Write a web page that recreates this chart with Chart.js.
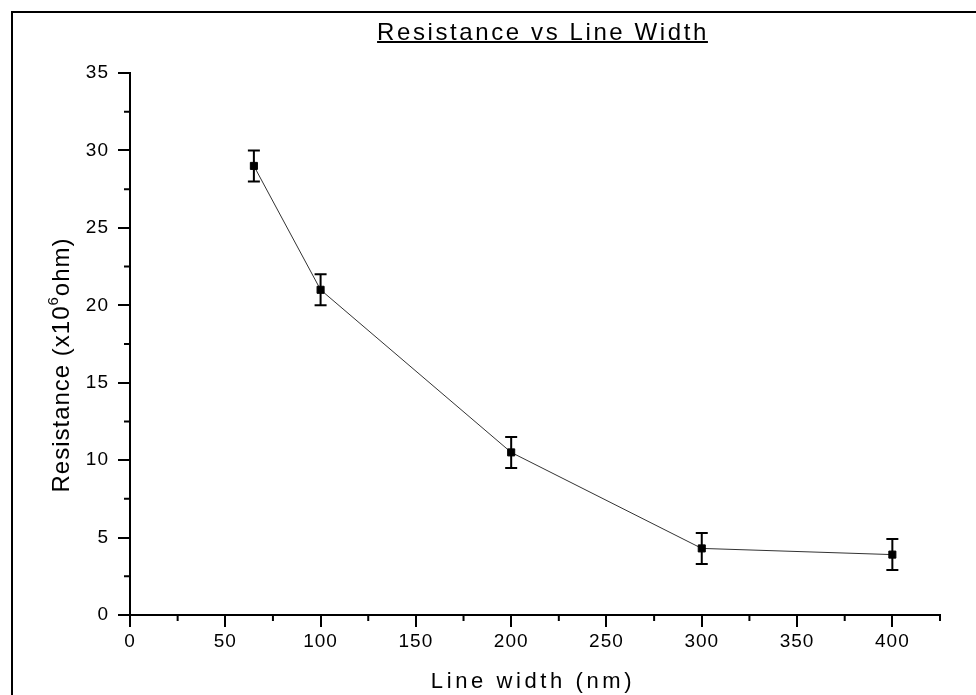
<!DOCTYPE html>
<html lang="en">
<head>
<meta charset="UTF-8">
<title>Resistance vs Line Width</title>
<script src="https://cdn.jsdelivr.net/npm/chart.js"></script>
<style>
  html, body { margin:0; padding:0; background:#fff; }
  #wrap { width:976px; height:695px; overflow:hidden; }
</style>
</head>
<body>
<div id="wrap"><canvas id="chart" width="976" height="695"></canvas></div>
<script>
// values
const lineWidths    = [65, 100, 200, 300, 400];
const resistance    = [29.0, 21.0, 10.5, 4.3, 3.9];
const resistanceErr = [1.0, 1.0, 1.0, 1.0, 1.0];

const xTickValues  = [0, 50, 100, 150, 200, 250, 300, 350, 400];
const xMinorValues = [25, 75, 125, 175, 225, 275, 325, 375, 425];
const yTickValues  = [0, 5, 10, 15, 20, 25, 30, 35];
const yMinorValues = [2.5, 7.5, 12.5, 17.5, 22.5, 27.5, 32.5];

const chartTitle  = 'Resistance vs Line Width';
const xTitle      = 'Line width (nm)';
const yTitleParts = ['Resistance (x10', '6', 'ohm)'];

const FONT = '"Liberation Sans", Arial, sans-serif';

const decor = {
  id: 'decor',
  beforeDraw(chart) {
    const ctx = chart.ctx;
    ctx.save();
    ctx.fillStyle = '#fff';
    ctx.fillRect(0, 0, chart.width, chart.height);
    // frame round the whole figure (runs off the right and bottom edges)
    ctx.strokeStyle = '#000';
    ctx.lineWidth = 2;
    ctx.strokeRect(12, 12, chart.width + 40, chart.height + 40);
    ctx.restore();
    ctx.letterSpacing = '1px';   // slightly spaced tick labels
  },
  beforeDatasetsDraw(chart) {
    const ctx = chart.ctx, xs = chart.scales.x, ys = chart.scales.y;
    ctx.save();
    ctx.strokeStyle = '#000';
    ctx.lineWidth = 2;
    lineWidths.forEach((v, i) => {
      const px = xs.getPixelForValue(v);
      const top = ys.getPixelForValue(resistance[i] + resistanceErr[i]);
      const bot = ys.getPixelForValue(resistance[i] - resistanceErr[i]);
      ctx.beginPath();
      ctx.moveTo(px, top); ctx.lineTo(px, bot);
      ctx.moveTo(px - 6, top); ctx.lineTo(px + 6, top);
      ctx.moveTo(px - 6, bot); ctx.lineTo(px + 6, bot);
      ctx.stroke();
    });
    ctx.restore();
  },
  afterDraw(chart) {
    const ctx = chart.ctx, xs = chart.scales.x, ys = chart.scales.y;
    const area = chart.chartArea;
    ctx.save();
    // minor ticks
    ctx.strokeStyle = '#000';
    ctx.lineWidth = 2;
    ctx.beginPath();
    xMinorValues.forEach(v => {
      const px = xs.getPixelForValue(v);
      ctx.moveTo(px, area.bottom); ctx.lineTo(px, area.bottom + 6);
    });
    yMinorValues.forEach(v => {
      const py = ys.getPixelForValue(v);
      ctx.moveTo(area.left - 6, py); ctx.lineTo(area.left, py);
    });
    ctx.stroke();

    ctx.fillStyle = '#000';
    ctx.textBaseline = 'alphabetic';
    ctx.textAlign = 'left';

    // chart title, underlined
    ctx.font = '24px ' + FONT;
    ctx.letterSpacing = '2.6px';
    const tw = ctx.measureText(chartTitle).width;
    const tx = (area.left + area.right) / 2 + 8 - tw / 2;
    ctx.fillText(chartTitle, tx, 40);
    ctx.fillRect(tx, 41, tw - 1, 2);

    // x axis title
    ctx.font = '22px ' + FONT;
    ctx.letterSpacing = '3.6px';
    const xw = ctx.measureText(xTitle).width;
    ctx.fillText(xTitle, (area.left + area.right) / 2 - 2 - xw / 2, 688);

    // y axis title with superscript
    ctx.letterSpacing = '1px';
    ctx.translate(69, (area.top + area.bottom) / 2 + 21);
    ctx.rotate(-Math.PI / 2);
    ctx.font = '24px ' + FONT;
    const w0 = ctx.measureText(yTitleParts[0]).width;
    const w2 = ctx.measureText(yTitleParts[2]).width;
    ctx.font = '15px ' + FONT;
    const w1 = ctx.measureText(yTitleParts[1]).width;
    let cx = -(w0 + w1 + w2) / 2;
    ctx.font = '24px ' + FONT;
    ctx.fillText(yTitleParts[0], cx, 0);
    cx += w0;
    ctx.font = '15px ' + FONT;
    ctx.fillText(yTitleParts[1], cx, -11);
    cx += w1;
    ctx.font = '24px ' + FONT;
    ctx.fillText(yTitleParts[2], cx, 0);
    ctx.restore();
  }
};

new Chart(document.getElementById('chart'), {
  type: 'scatter',
  data: {
    datasets: [{
      data: lineWidths.map((x, i) => ({ x: x, y: resistance[i] })),
      showLine: true,
      borderColor: '#333',
      borderWidth: 1,
      pointStyle: 'rect',
      pointRadius: 5,
      pointBackgroundColor: '#000',
      pointBorderColor: '#000',
      pointBorderWidth: 1
    }]
  },
  options: {
    responsive: false,
    animation: false,
    layout: { padding: { top: 73, right: 36, bottom: 0, left: 0 } },
    plugins: { legend: { display: false }, tooltip: { enabled: false } },
    scales: {
      x: {
        type: 'linear',
        min: 0, max: 425,
        afterBuildTicks: s => { s.ticks = xTickValues.map(v => ({ value: v })); },
        afterFit: s => { s.height = 80; },
        grid: { drawOnChartArea: false, drawTicks: true, tickLength: 12, color: '#000', lineWidth: 2 },
        border: { color: '#000', width: 2 },
        ticks: { color: '#000', font: { family: FONT, size: 19 }, padding: 3, maxRotation: 0, autoSkip: false }
      },
      y: {
        type: 'linear',
        min: 0, max: 35,
        afterBuildTicks: s => { s.ticks = yTickValues.map(v => ({ value: v })); },
        afterFit: s => { s.width = 130; },
        grid: { drawOnChartArea: false, drawTicks: true, tickLength: 12, color: '#000', lineWidth: 2 },
        border: { color: '#000', width: 2 },
        ticks: { color: '#000', font: { family: FONT, size: 19 }, padding: 9, autoSkip: false }
      }
    }
  },
  plugins: [decor]
});
</script>
</body>
</html>
